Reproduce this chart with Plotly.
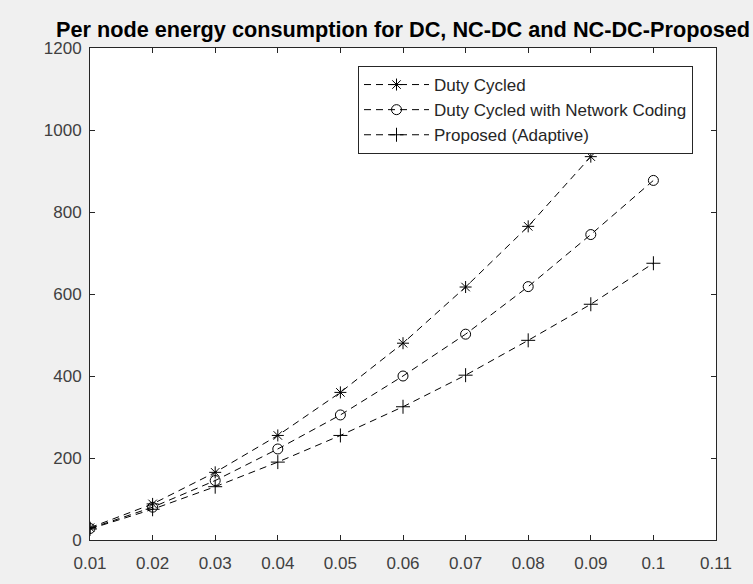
import plotly.graph_objects as go

x_vals = [0.01, 0.02, 0.03, 0.04, 0.05, 0.06, 0.07, 0.08, 0.09, 0.1]
duty_cycled = [30, 88, 165, 255, 360, 480, 617, 765, 935, 1125]
duty_cycled_nc = [28, 80, 145, 222, 305, 400, 502, 618, 745, 877]
proposed = [27, 75, 130, 190, 255, 325, 402, 487, 575, 675]

series = [
    ("Duty Cycled", duty_cycled, "asterisk-open"),
    ("Duty Cycled with Network Coding", duty_cycled_nc, "circle-open"),
    ("Proposed (Adaptive)", proposed, "cross-thin-open"),
]

FONT = "Liberation Sans, Arial, sans-serif"

fig = go.Figure()
for name, vals, sym in series:
    fig.add_trace(go.Scatter(
        x=x_vals, y=vals, name=name, mode="lines+markers",
        line=dict(color="black", width=1, dash="7px,5px"),
        marker=dict(symbol=sym, size=10, color="black", line=dict(color="black", width=1)),
    ))

axis_common = dict(
    showline=True, mirror="ticks", linecolor="#262626", linewidth=1,
    ticks="inside", ticklen=5, tickcolor="#262626",
    showgrid=False, zeroline=False, automargin=False,
    tickfont=dict(family=FONT, size=17, color="#404040"),
)

x_ticks = [0.01, 0.02, 0.03, 0.04, 0.05, 0.06, 0.07, 0.08, 0.09, 0.1, 0.11]
x_ticktext = ["0.01", "0.02", "0.03", "0.04", "0.05", "0.06", "0.07", "0.08", "0.09", "0.1", "0.11"]
y_ticks = [0, 200, 400, 600, 800, 1000, 1200]

fig.update_layout(
    width=753, height=584,
    margin=dict(l=90, r=37, t=48, b=44),
    paper_bgcolor="#f0f0f0", plot_bgcolor="white",
    title=dict(text="<b>Per node energy consumption for DC, NC-DC and NC-DC-Proposed</b>",
               xref="paper", x=0.5, xanchor="center", y=1 - 29 / 584, yanchor="middle",
               font=dict(family=FONT, size=21.7, color="black")),
    xaxis=dict(range=[0.01, 0.11], tickvals=x_ticks, ticktext=x_ticktext,
               ticklabelstandoff=8, **axis_common),
    yaxis=dict(range=[0, 1200], tickvals=y_ticks, ticklabelstandoff=4, **axis_common),
    legend=dict(x=(358 - 90) / 626, y=(540 - 66) / 492, xanchor="left", yanchor="top",
                bgcolor="white", bordercolor="#262626", borderwidth=1,
                itemwidth=65,
                font=dict(family=FONT, size=17, color="#262626"),
                tracegroupgap=0),
    showlegend=True,
)

fig.write_html("out.html")
